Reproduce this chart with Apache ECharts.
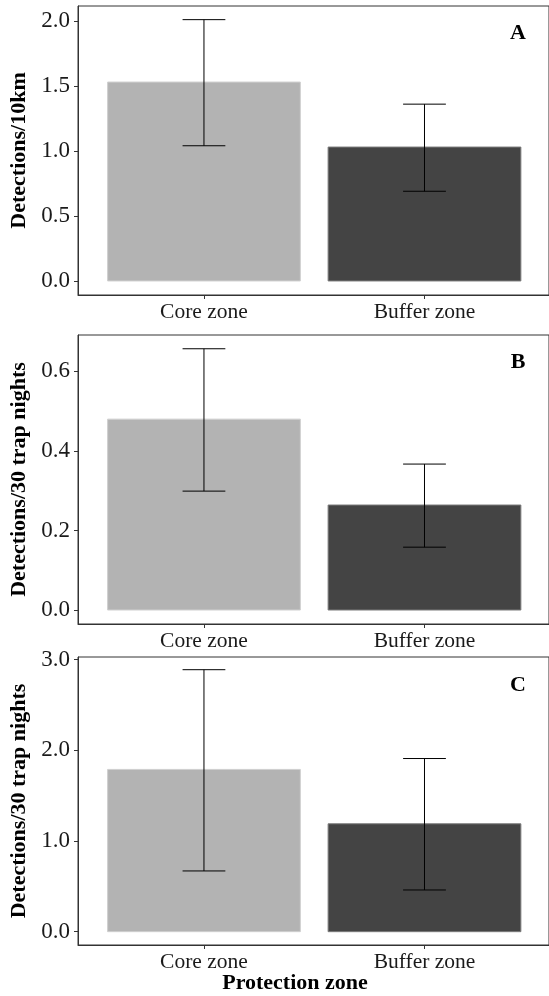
<!DOCTYPE html>
<html>
<head>
<meta charset="utf-8">
<script src="https://cdn.jsdelivr.net/npm/echarts@6/dist/echarts.min.js"></script>
<style>
  html, body { margin: 0; padding: 0; background: #fff; }
  #chart { width: 549px; height: 996px; }
</style>
</head>
<body>
<div id="chart"></div>
<script>
const zones = ['Core zone', 'Buffer zone']
const barColors = ['#b3b3b3', '#444444']

// panel A: detections per 10 km
const meanA = [1.53, 1.03]
const lowA = [1.04, 0.69]
const highA = [2.01, 1.36]
const ticksA = [0, 0.5, 1.0, 1.5, 2.0]

// panel B: detections per 30 trap nights
const meanB = [0.48, 0.264]
const lowB = [0.299, 0.158]
const highB = [0.657, 0.367]
const ticksB = [0, 0.2, 0.4, 0.6]

// panel C
const meanC = [1.79, 1.19]
const lowC = [0.67, 0.46]
const highC = [2.89, 1.91]
const ticksC = [0, 1.0, 2.0, 3.0]

const yTitles = ['Detections/10km', 'Detections/30 trap nights', 'Detections/30 trap nights']
const panelLetters = ['A', 'B', 'C']
const xTitle = 'Protection zone'

const font = '"Liberation Serif", "DejaVu Serif", serif'
const ink = '#1a1a1a'

const panels = [
  { mean: meanA, low: lowA, high: highA, ticks: ticksA, min: -0.108, max: 2.115, top: 6, height: 289, letterY: 33 },
  { mean: meanB, low: lowB, high: highB, ticks: ticksB, min: -0.0352, max: 0.6916, top: 335, height: 289, letterY: 362 },
  { mean: meanC, low: lowC, high: highC, ticks: ticksC, min: -0.147, max: 3.03, top: 657, height: 288, letterY: 685 }
]

const renderBar = (params, api) => {
  const x = api.value(0)
  const v = api.value(1)
  const p0 = api.coord([x - 0.437, 0])
  const p1 = api.coord([x + 0.437, v])
  return {
    type: 'rect',
    shape: { x: p0[0], y: p1[1], width: p1[0] - p0[0], height: p0[1] - p1[1] },
    style: { fill: barColors[params.dataIndex], stroke: params.dataIndex === 0 ? '#cfcfcf' : '#7a7a7a', lineWidth: 1 }
  }
}

const renderErr = (params, api) => {
  const x = api.value(0)
  const lo = api.coord([x, api.value(1)])
  const hi = api.coord([x, api.value(2)])
  const capL = api.coord([x - 0.097, 0])[0]
  const capR = api.coord([x + 0.097, 0])[0]
  const st = { stroke: '#000', lineWidth: 1 }
  return {
    type: 'group',
    children: [
      { type: 'line', shape: { x1: lo[0], y1: lo[1], x2: hi[0], y2: hi[1] }, style: st },
      { type: 'line', shape: { x1: capL, y1: hi[1], x2: capR, y2: hi[1] }, style: st },
      { type: 'line', shape: { x1: capL, y1: lo[1], x2: capR, y2: lo[1] }, style: st }
    ]
  }
}

const grid = []
const xAxis = []
const yAxis = []
const series = []
const graphic = []

panels.forEach((p, i) => {
  grid.push({ left: 78, width: 472, top: p.top, height: p.height, show: true, borderColor: '#333', borderWidth: 1 })
  xAxis.push({
    type: 'value', gridIndex: i, min: 0.4288, max: 2.5646,
    splitLine: { show: false },
    axisLine: { show: true, onZero: false, lineStyle: { color: '#333', width: 1 } },
    axisTick: { show: true, length: 4, customValues: [1, 2], lineStyle: { color: '#333' } },
    axisLabel: {
      customValues: [1, 2], margin: 6, color: ink, fontFamily: font, fontSize: 21.5,
      formatter: v => zones[Math.round(v) - 1]
    }
  })
  yAxis.push({
    type: 'value', gridIndex: i, min: p.min, max: p.max,
    name: yTitles[i], nameLocation: 'middle', nameGap: 48,
    nameTextStyle: { fontFamily: font, fontWeight: 'bold', fontSize: 22, color: '#000' },
    splitLine: { show: false },
    axisLine: { show: true, onZero: false, lineStyle: { color: '#333', width: 1 } },
    axisTick: { show: true, length: 4, customValues: p.ticks, lineStyle: { color: '#333' } },
    axisLabel: {
      customValues: p.ticks, margin: 8, color: ink, fontFamily: font, fontSize: 23,
      formatter: v => v.toFixed(1)
    }
  })
  series.push({
    type: 'custom', xAxisIndex: i, yAxisIndex: i, renderItem: renderBar,
    data: p.mean.map((v, k) => [k + 1, v])
  })
  series.push({
    type: 'custom', xAxisIndex: i, yAxisIndex: i, renderItem: renderErr,
    data: p.mean.map((v, k) => [k + 1, p.low[k], p.high[k]])
  })
  graphic.push({
    type: 'text', x: 518, y: p.letterY,
    style: { text: panelLetters[i], font: 'bold 22px ' + font, fill: '#000', textAlign: 'center', textVerticalAlign: 'middle' }
  })
})

graphic.push({
  type: 'text', x: 295, y: 983,
  style: { text: xTitle, font: 'bold 22px ' + font, fill: '#000', textAlign: 'center', textVerticalAlign: 'middle' }
})

const myChart = echarts.init(document.getElementById('chart'))
myChart.setOption({
  animation: false,
  backgroundColor: '#fff',
  grid: grid,
  xAxis: xAxis,
  yAxis: yAxis,
  series: series,
  graphic: graphic
})
</script>
</body>
</html>
